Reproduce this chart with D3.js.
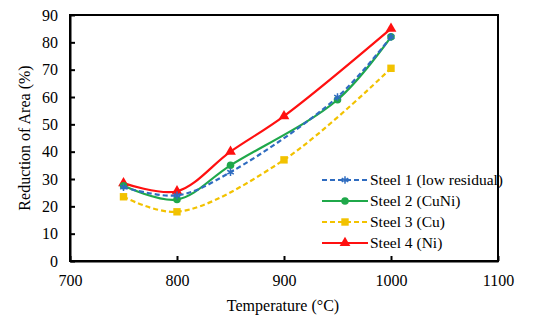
<!DOCTYPE html>
<html>
<head>
<meta charset="utf-8">
<script src="https://cdn.jsdelivr.net/npm/d3@7"></script>
<style>
  body { margin: 0; background: #fff; font-family: "Liberation Serif", serif; }
</style>
</head>
<body>
<div id="chart"></div>
<script>
// data (null = no point plotted)
var temps = [750, 800, 850, 900, 950, 1000];
var steel1 = [27, 24, 32.5, null, 60, 82];
var steel2 = [27.5, 22.5, 35, null, 59, 82];
var steel3 = [23.5, 18, null, 37, null, 70.5];
var steel4 = [28.5, 25.5, 40, 53, null, 85];
var seriesNames = ["Steel 1 (low residual)", "Steel 2 (CuNi)", "Steel 3 (Cu)", "Steel 4 (Ni)"];
var xTicks = [700, 800, 900, 1000, 1100];
var yTicks = [0, 10, 20, 30, 40, 50, 60, 70, 80, 90];

var FONT = "Liberation Serif";

var svgWidth = 550, svgHeight = 324;
var margin = { top: 15, right: 52, bottom: 63, left: 70 };
var chartWidth = svgWidth - margin.left - margin.right;
var chartHeight = svgHeight - margin.top - margin.bottom;

var svg = d3.select("#chart").append("svg")
  .attr("width", svgWidth)
  .attr("height", svgHeight)
  .attr("font-family", FONT);

var chartGroup = svg.append("g")
  .attr("transform", `translate(${margin.left}, ${margin.top})`);

var xScale = d3.scaleLinear().domain([700, 1100]).range([0, chartWidth]);
var yScale = d3.scaleLinear().domain([0, 90]).range([chartHeight, 0]);

// frame
chartGroup.append("rect")
  .attr("width", chartWidth)
  .attr("height", chartHeight)
  .attr("fill", "none")
  .attr("stroke", "#000")
  .attr("stroke-width", 2);

// axes, ticks pointing inward
var bottomAxis = d3.axisBottom(xScale).tickValues(xTicks).tickFormat(d3.format("d"))
  .tickSizeInner(-5).tickSizeOuter(0).tickPadding(14);
var leftAxis = d3.axisLeft(yScale).tickValues(yTicks).tickFormat(d3.format("d"))
  .tickSizeInner(-5).tickSizeOuter(0).tickPadding(12);

var gx = chartGroup.append("g")
  .attr("transform", `translate(0, ${chartHeight})`)
  .call(bottomAxis);
var gy = chartGroup.append("g").call(leftAxis);

[gx, gy].forEach(function(g) {
  g.attr("font-family", FONT).attr("font-size", 16);
  g.select(".domain").attr("stroke", "#000").attr("stroke-width", 2);
  g.selectAll(".tick line").attr("stroke", "#000").attr("stroke-width", 2);
  g.selectAll(".tick text").attr("fill", "#000");
});

// axis titles
svg.append("text")
  .attr("transform", "rotate(-90)")
  .attr("x", -(margin.top + chartHeight / 2))
  .attr("y", 30)
  .attr("text-anchor", "middle")
  .attr("font-size", 16)
  .text("Reduction of Area (%)");

svg.append("text")
  .attr("x", margin.left + chartWidth / 2 - 1)
  .attr("y", 311)
  .attr("text-anchor", "middle")
  .attr("font-size", 16)
  .text("Temperature (\u00B0C)");

var allSeries = [
  { name: seriesNames[0], values: steel1, color: "#2f6cc0", dash: "5,3", marker: "star" },
  { name: seriesNames[1], values: steel2, color: "#1fa84a", dash: null, marker: "circle" },
  { name: seriesNames[2], values: steel3, color: "#f2c200", dash: "5,3", marker: "square" },
  { name: seriesNames[3], values: steel4, color: "#ff1010", dash: null, marker: "triangle" }
];

var line = d3.line()
  .x(function(d) { return xScale(d[0]); })
  .y(function(d) { return yScale(d[1]); })
  .curve(d3.curveCatmullRom.alpha(0.5));

var symbolType = {
  circle: d3.symbolCircle,
  square: d3.symbolSquare,
  triangle: d3.symbolTriangle
};

function drawMarker(g, s, x, y) {
  if (s.marker === "star") {
    g.append("path")
      .attr("d", d3.symbol().type(d3.symbolAsterisk).size(40)())
      .attr("transform", `translate(${x},${y})`)
      .attr("fill", "none")
      .attr("stroke", s.color)
      .attr("stroke-width", 1.5);
  } else {
    var size = s.marker === "square" ? 55 : (s.marker === "triangle" ? 50 : 45);
    g.append("path")
      .attr("d", d3.symbol().type(symbolType[s.marker]).size(size)())
      .attr("transform", `translate(${x},${y})`)
      .attr("fill", s.color);
  }
}

// draw lines back to front: yellow, red, green, blue
[2, 3, 1, 0].forEach(function(i) {
  var s = allSeries[i];
  var pts = temps.map(function(t, j) { return [t, s.values[j]]; })
    .filter(function(p) { return p[1] !== null; });
  chartGroup.append("path")
    .datum(pts)
    .attr("d", line)
    .attr("fill", "none")
    .attr("stroke", s.color)
    .attr("stroke-width", 2.2)
    .attr("stroke-dasharray", s.dash);
  pts.forEach(function(p) {
    drawMarker(chartGroup, s, xScale(p[0]), yScale(p[1]));
  });
});

// legend
var legend = svg.append("g").attr("transform", "translate(322, 180)");
allSeries.forEach(function(s, i) {
  var row = legend.append("g").attr("transform", `translate(0, ${i * 21})`);
  row.append("line")
    .attr("x1", 0).attr("x2", 46)
    .attr("y1", 0).attr("y2", 0)
    .attr("stroke", s.color)
    .attr("stroke-width", 2)
    .attr("stroke-dasharray", s.dash);
  drawMarker(row, s, 23, 0);
  row.append("text")
    .attr("x", 48)
    .attr("y", 5)
    .attr("font-size", 15.5)
    .text(s.name);
});
</script>
</body>
</html>
